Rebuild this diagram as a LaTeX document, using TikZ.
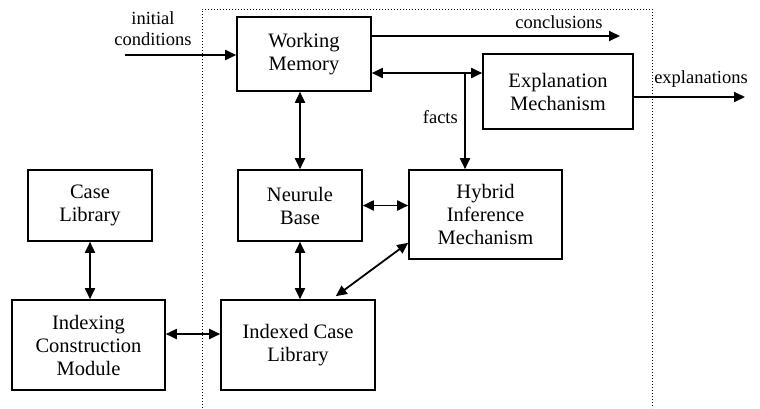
\documentclass[tikz,border=0pt]{standalone}
\usepackage{fontspec}
\setmainfont{Liberation Serif}
\usepackage{tikz}
\usetikzlibrary{positioning,arrows.meta}

\begin{document}
\begin{tikzpicture}[
  x=1pt, y=-1pt,
  box/.style={draw, line width=1.6pt, align=center, inner sep=2pt, font=\fontsize{20.5}{23}\selectfont},
  lbl/.style={align=center, inner sep=0pt, font=\fontsize{18.5}{21}\selectfont},
  arr/.style={-{Triangle[length=11pt,width=10pt]}, line width=1.8pt},
  dbl/.style={{Triangle[length=11pt,width=10pt]}-{Triangle[length=11pt,width=10pt]}, line width=1.8pt}
]
\useasboundingbox (0,0) rectangle (760,408);
% system boundary
\draw[dotted, line width=1pt] (202,408) -- (202,9) -- (652,9) -- (652,408);
% blocks
\node[box, minimum width=134pt, minimum height=74pt] (wm) at (304,54) {Working\\Memory};
\node[box, minimum width=150pt, minimum height=75pt] (ex) at (558,91.5) {Explanation\\Mechanism};
\node[box, minimum width=124pt, minimum height=71pt] (nb) at (300,205.5) {Neurule\\Base};
\node[box, minimum width=153pt, minimum height=89pt] (hy) at (485.5,214.5) {Hybrid\\Inference\\Mechanism};
\node[box, minimum width=124pt, minimum height=71pt] (cl) at (90,205.5) {Case\\Library};
\node[box, minimum width=153pt, minimum height=90pt] (ic) at (88.5,345) {Indexing\\Construction\\Module};
\node[box, minimum width=154pt, minimum height=90pt] (ix) at (298,345) {Indexed Case\\Library};
% free ends
\coordinate (init) at (125,55);
\coordinate (concl) at (620,36);
\coordinate (expl) at (745,97);
\coordinate (fj) at (465,73);
% labels
\node[lbl] (initlbl) at (153,29) {initial\\conditions};
\node[lbl] (concllbl) at (559,22) {conclusions};
\node[lbl] (expllbl) at (701,79) {explanations};
\node[lbl, anchor=east] (factslbl) at (458,117) {facts};
% connectors
\draw[arr] (init) -- (wm.west |- init);
\draw[arr] (wm.east |- concl) -- (concl);
\draw[dbl] (wm.east |- fj) -- (ex.west |- fj);
\draw[arr] (fj) -- (hy.north -| fj);
\draw[arr] (ex.east |- expl) -- (expl);
\draw[dbl] (nb.north) -- (nb.north |- wm.south);
\draw[dbl] (nb.east) -- (hy.west |- nb.east);
\draw[dbl] (nb.south) -- (nb.south |- ix.north);
\draw[dbl] ([yshift=17pt]hy.south west) -- ([xshift=-40pt,yshift=3pt]ix.north east);
\draw[dbl] (cl.south) -- (cl.south |- ic.north);
\draw[dbl] ([yshift=11pt]ic.east) -- ([yshift=11pt]ix.west);
\end{tikzpicture}
\end{document}
